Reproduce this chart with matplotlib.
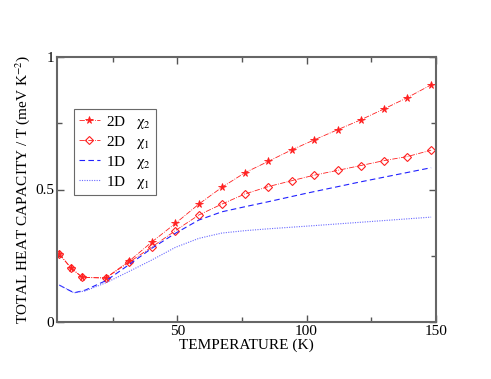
import numpy as np
import matplotlib
matplotlib.use("Agg")
import matplotlib.pyplot as plt
from matplotlib.ticker import MultipleLocator, FormatStrFormatter

plt.rcParams["font.family"] = ["Liberation Serif", "DejaVu Serif"]
plt.rcParams["mathtext.fontset"] = "stix"

# 2D model data (markers)
t_2d = [4.3, 8.8, 13.2, 22.3, 31.3, 40.2, 49.2, 58.3, 67.2, 76.1, 85.2,
        94.2, 103.0, 112.0, 120.9, 130.1, 139.0, 148.2]
c_2d_chi2 = [0.257, 0.205, 0.169, 0.167, 0.230, 0.303, 0.372, 0.445, 0.508,
             0.563, 0.606, 0.649, 0.687, 0.725, 0.762, 0.804, 0.846, 0.894]
c_2d_chi1 = [0.257, 0.205, 0.169, 0.167, 0.226, 0.284, 0.345, 0.404, 0.445,
             0.483, 0.511, 0.533, 0.554, 0.572, 0.590, 0.609, 0.624, 0.648]

# 1D model data (lines)
t_1d = [4.3, 10.0, 14.3, 22.6, 31.0, 40.0, 49.2, 58.3, 67.2, 76.1, 85.2,
        100.0, 120.0, 148.2]
c_1d_chi2 = [0.140, 0.111, 0.121, 0.158, 0.215, 0.278, 0.335, 0.385, 0.416,
             0.435, 0.454, 0.486, 0.527, 0.582]
c_1d_chi1 = [0.140, 0.111, 0.118, 0.150, 0.190, 0.234, 0.282, 0.316, 0.336,
             0.345, 0.352, 0.362, 0.376, 0.396]

fig = plt.figure(figsize=(4.91, 3.79), dpi=100)
ax = fig.add_axes([0.1155, 0.1496, 0.772, 0.7008])

ax.plot(t_2d, c_2d_chi2, color="#ff2020", linestyle="-.", linewidth=0.6,
        marker="*", markersize=5.5, markeredgewidth=0.6,
        label=r"2D   $\mathrm{\chi}_2$")
ax.plot(t_2d, c_2d_chi1, color="#ff2020", linestyle="-.", linewidth=0.6,
        marker="D", markersize=4, markerfacecolor="none",
        markeredgewidth=0.8, label=r"2D   $\mathrm{\chi}_1$")
ax.plot(t_1d, c_1d_chi2, color="#2020ff", linestyle=(0, (5, 3)),
        linewidth=0.8, label=r"1D   $\mathrm{\chi}_2$")
ax.plot(t_1d, c_1d_chi1, color="#6a6aff", linestyle=(0, (1, 1.2)),
        linewidth=0.8, label=r"1D   $\mathrm{\chi}_1$")

ax.set_xlim(3.3, 150)
ax.set_ylim(0, 1)
ax.xaxis.set_major_locator(MultipleLocator(50))
ax.xaxis.set_minor_locator(MultipleLocator(25))
ax.yaxis.set_major_locator(MultipleLocator(0.5))
ax.yaxis.set_minor_locator(MultipleLocator(0.25))
ax.yaxis.set_major_formatter(FormatStrFormatter("%g"))
ax.tick_params(which="both", direction="in", top=True, right=True,
               labelsize=11, color="#555555", width=1.0, pad=2)
ax.tick_params(which="major", length=5)
ax.tick_params(which="minor", length=3.5)
for s in ax.spines.values():
    s.set_color("#666666")
    s.set_linewidth(1.5)

ax.set_xlabel("TEMPERATURE (K)", fontsize=11, labelpad=0)
ax.set_ylabel(r"TOTAL HEAT CAPACITY / T (meV K$^{-2}$)", fontsize=11,
              labelpad=2)

leg = ax.legend(loc="upper left", bbox_to_anchor=(0.046, 0.803),
                fontsize=11, frameon=True, fancybox=False, handlelength=1.4,
                handletextpad=0.4, borderpad=0.3, labelspacing=0.2,
                borderaxespad=0)
leg.get_frame().set_edgecolor("#444444")
leg.get_frame().set_linewidth(0.8)

fig.savefig("out.png", dpi=100)
